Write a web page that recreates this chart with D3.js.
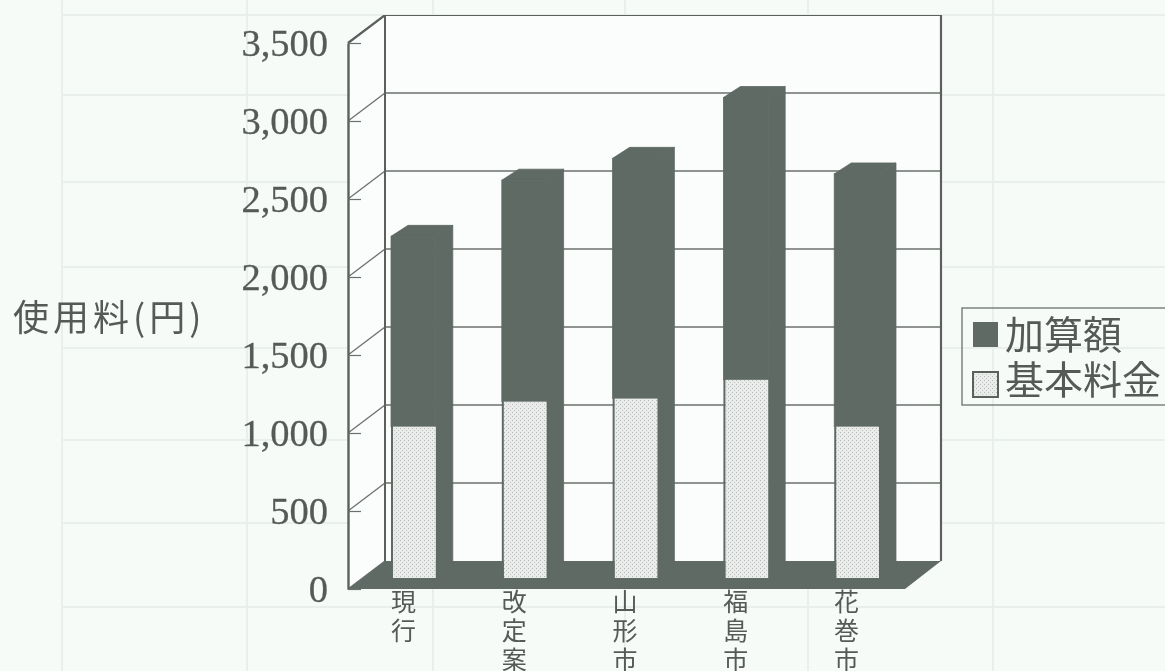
<!DOCTYPE html>
<html lang="ja">
<head>
<meta charset="utf-8">
<script src="https://cdn.jsdelivr.net/npm/d3@7"></script>
<style>
html,body{margin:0;padding:0;background:#f6fbf8;overflow:hidden}
svg{display:block}
text{fill:#555a57}
.jp{font-family:"Noto Sans CJK JP","Noto Sans",sans-serif;font-weight:400}
.num{font-family:"Liberation Serif",serif}
</style>
</head>
<body>
<svg id="c" width="1165" height="671"></svg>
<script>
const categories = ["現行","改定案","山形市","福島市","花巻市"];
const baseFee  = [970,1130,1150,1270,970];
const addedFee = [1220,1420,1540,1810,1620];
const yTicks = [0,500,1000,1500,2000,2500,3000,3500];
const legendLabels = ["加算額","基本料金"];
const yTitle = "使用料(円)";
const ghostRows = [15,95,182,267,348,440,523,607];
const ghostCols = [62,247,433,625,808,993];

const W=1165,H=671;
const svg=d3.select("#c");
const defs=svg.append("defs");
defs.append("filter").attr("id","scan").attr("x","0").attr("y","0").attr("width","1").attr("height","1")
  .append("feGaussianBlur").attr("stdDeviation",0.5);
const pat=defs.append("pattern").attr("id","stip").attr("width",4).attr("height",4).attr("patternUnits","userSpaceOnUse");
pat.append("rect").attr("width",4).attr("height",4).attr("fill","#e9ecea");
pat.append("rect").attr("x",0).attr("y",0).attr("width",1).attr("height",1).attr("fill","#b4b9b6");
pat.append("rect").attr("x",2).attr("y",2).attr("width",1).attr("height",1).attr("fill","#bfc4c1");

const dark="#5e6a65";
// Faint table printed through from the reverse of the page
const ghost=svg.append("g").attr("stroke","#e9f0ec").attr("stroke-width",2);
ghost.selectAll("line.r").data(ghostRows).join("line").attr("class","r").attr("x1",62).attr("x2",W).attr("y1",d=>d).attr("y2",d=>d);
ghost.selectAll("line.c").data(ghostCols).join("line").attr("class","c").attr("x1",d=>d).attr("x2",d=>d).attr("y1",0).attr("y2",H);

const root=svg.append("g").attr("filter","url(#scan)");

// Scales: front plane of the 3D box
const y=d3.scaleLinear().domain([0,3500]).range([589,43]);
const wall={dx:37,dy:-28};              // depth of the box
const barLift=-11, barDepth={dx:17,dy:-11};
const x=d3.scaleBand().domain(categories).range([358,912]).paddingInner(0.596).paddingOuter(0.298);
const right=941, floorRight=905, left=348;
const backY=v=>y(v)+wall.dy, backX=left+wall.dx;

// Walls
root.append("rect").attr("x",backX).attr("y",backY(3500)).attr("width",right-backX).attr("height",backY(0)-backY(3500)).attr("fill","#fafdfc");
root.append("path").attr("d",d3.line()([[left,y(3500)],[backX,backY(3500)],[backX,backY(0)],[left,y(0)]])+"Z").attr("fill","#fafdfc");

// Gridlines on back and side wall
const grid=root.append("g").attr("stroke","#6b706d").attr("stroke-width",1.3);
grid.selectAll("line.b").data(yTicks.slice(1,-1)).join("line").attr("class","b")
  .attr("x1",backX).attr("x2",right).attr("y1",backY).attr("y2",backY);
grid.selectAll("line.s").data(yTicks).join("line").attr("class","s")
  .attr("x1",left).attr("x2",backX).attr("y1",y).attr("y2",backY);

// Box outline
const box=root.append("g").attr("fill","none").attr("stroke","#5b605d");
box.append("path").attr("stroke-width",2.2).attr("d",d3.line()([[left,y(3500)],[backX,backY(3500)],[right,backY(3500)],[right,backY(0)]]));
box.append("line").attr("stroke-width",2).attr("x1",backX).attr("x2",backX).attr("y1",backY(3500)).attr("y2",backY(0));

// Floor
root.append("path").attr("fill",dark)
  .attr("d",d3.line()([[left,y(0)],[backX,backY(0)],[right,backY(0)],[floorRight,y(0)]])+"Z");

// Axis on the front plane
const axis=d3.axisLeft(y).tickValues(yTicks).tickSize(0).tickPadding(20).tickFormat(d3.format(","));
const gAxis=root.append("g").attr("transform",`translate(${left},0)`).call(axis);
gAxis.select(".domain").attr("stroke","#5b605d").attr("stroke-width",2.4);
gAxis.selectAll("text").attr("class","num").style("font-size","38.5px").style("stroke","#555a57").style("stroke-width",0.3);
gAxis.selectAll(".tick").append("line").attr("x1",0).attr("x2",13).attr("stroke","#6b706d").attr("stroke-width",1.2);

// Bars
const rows=categories.map((c,i)=>({cat:c,base:baseFee[i],added:addedFee[i]}));
const stacked=d3.stack().keys(["base","added"])(rows);
const bw=x.bandwidth();
const fx=c=>x(c);
const by=v=>y(v)+barLift;
const bars=root.append("g");
const solid=s=>s.attr("fill",dark).attr("stroke",dark).attr("stroke-width",0.8);
bars.selectAll("path.side").data(stacked[1]).join("path").attr("class","side").call(solid)
  .attr("d",d=>{const X=fx(d.data.cat)+bw,t=by(d[1]),b=by(0);
    return d3.line()([[X,b],[X,t],[X+barDepth.dx,t+barDepth.dy],[X+barDepth.dx,b+barDepth.dy]])+"Z";});
bars.selectAll("path.top").data(stacked[1]).join("path").attr("class","top").call(solid)
  .attr("d",d=>{const X=fx(d.data.cat),t=by(d[1]);
    return d3.line()([[X,t],[X+barDepth.dx,t+barDepth.dy],[X+bw+barDepth.dx,t+barDepth.dy],[X+bw,t]])+"Z";});
bars.selectAll("rect.added").data(stacked[1]).join("rect").attr("class","added").call(solid)
  .attr("x",d=>fx(d.data.cat)).attr("width",bw).attr("y",d=>by(d[1])).attr("height",d=>by(d[0])-by(d[1]));
bars.selectAll("rect.base").data(stacked[0]).join("rect").attr("class","base").attr("fill","url(#stip)")
  .attr("x",d=>fx(d.data.cat)+2).attr("width",bw-2).attr("y",d=>by(d[1])).attr("height",d=>by(d[0])-by(d[1]));
bars.selectAll("line.baseEdge").data(stacked[0]).join("line").attr("class","baseEdge").attr("stroke",dark).attr("stroke-width",2)
  .attr("x1",d=>fx(d.data.cat)+1).attr("x2",d=>fx(d.data.cat)+1).attr("y1",d=>by(d[1])).attr("y2",d=>by(0));

// Vertical category labels
const labels=root.selectAll("g.cat").data(categories).join("g").attr("class","cat")
  .attr("transform",c=>`translate(${x(c)+bw/2-10},0)`);
labels.selectAll("text").data(c=>Array.from(c)).join("text").attr("class","jp")
  .attr("text-anchor","middle").style("font-size","25px")
  .attr("y",(d,i)=>611+i*29).text(d=>d);

// Axis title
root.append("text").attr("class","jp").attr("x",13).attr("y",331).style("font-size","36px").style("letter-spacing","4px").text(yTitle);

// Legend
const leg=root.append("g");
leg.append("rect").attr("x",962).attr("y",308).attr("width",240).attr("height",97).attr("fill","none").attr("stroke","#6b706d").attr("stroke-width",1.3);
const lg=leg.selectAll("g.l").data(legendLabels).join("g").attr("class","l");
lg.append("rect").attr("x",973).attr("y",(d,i)=>322+i*50).attr("width",25).attr("height",25)
  .attr("fill",(d,i)=>i?"url(#stip)":dark).attr("stroke",(d,i)=>i?"#5b605d":"none").attr("stroke-width",2);
lg.append("text").attr("class","jp").attr("x",1005).attr("y",(d,i)=>349+i*45).style("font-size","39px").text(d=>d);
</script>
</body>
</html>
